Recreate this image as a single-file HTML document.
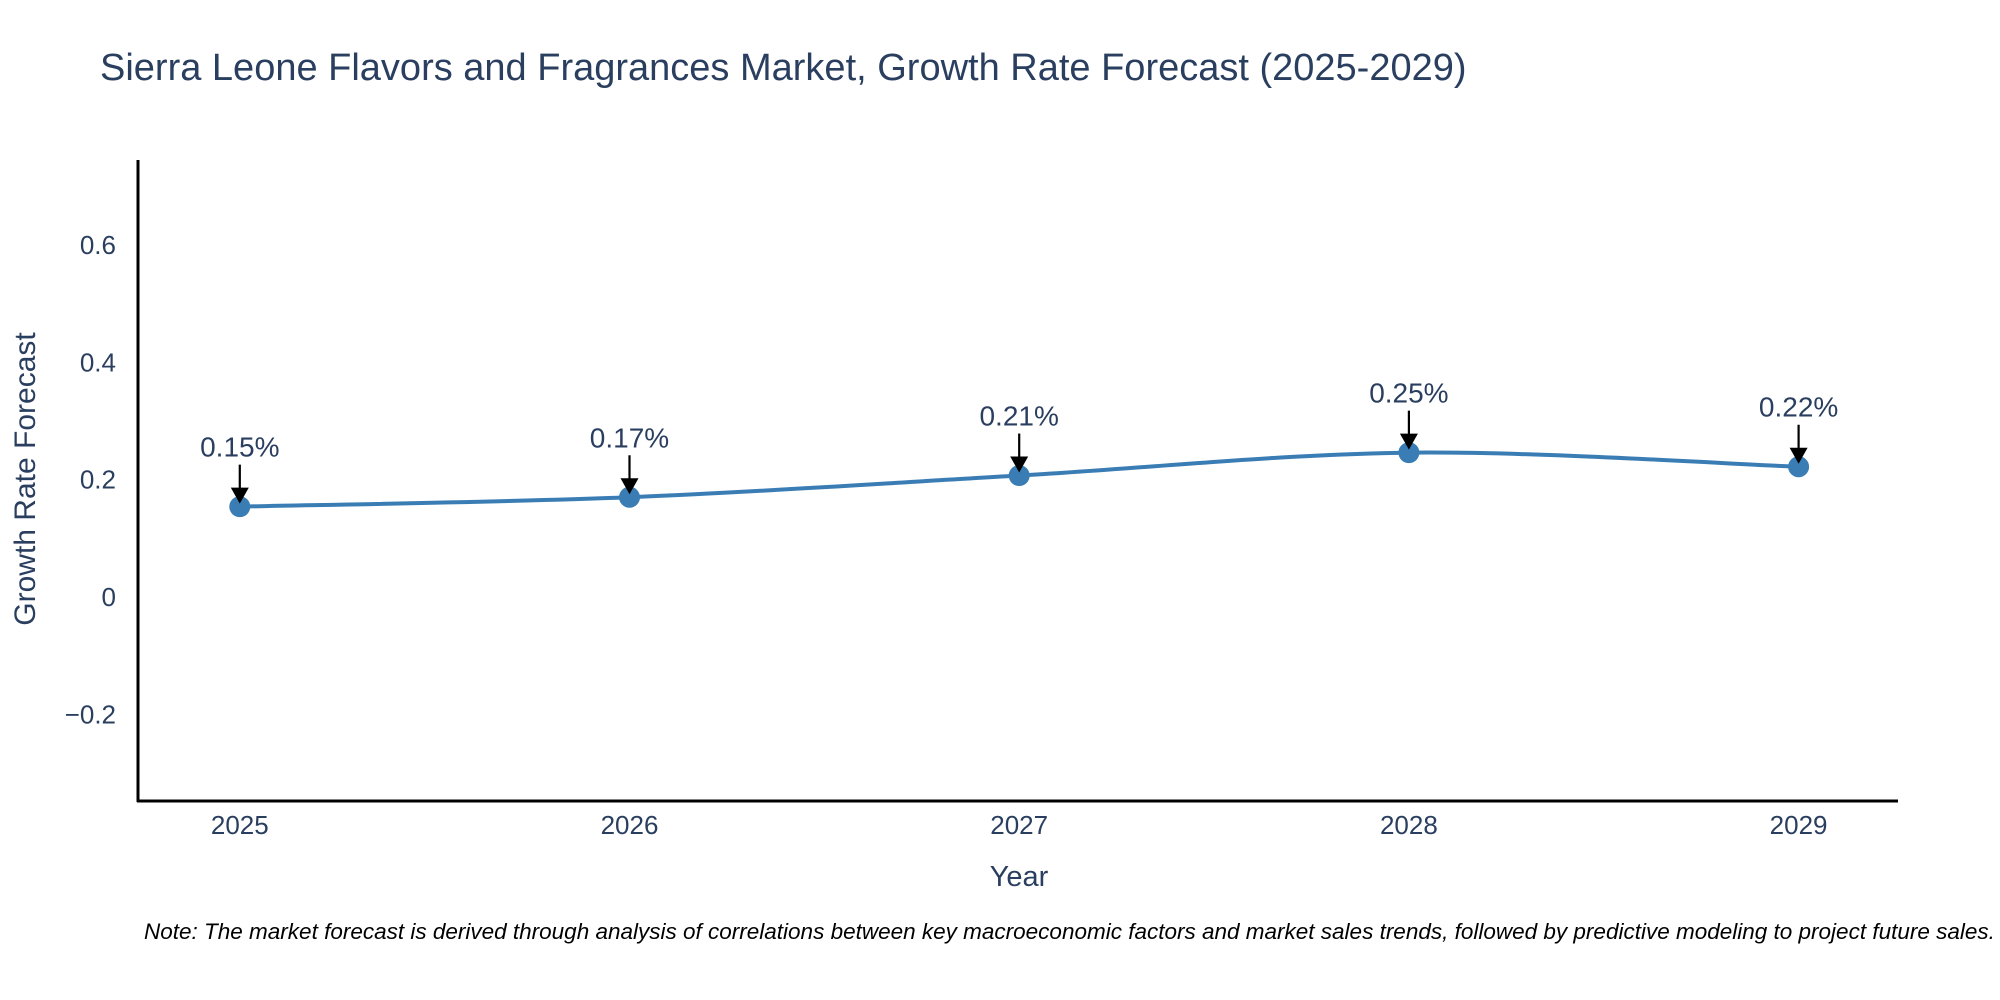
<!DOCTYPE html>
<html><head><meta charset="utf-8"><style>
body{margin:0;background:#fff;}
svg{display:block;font-family:"Liberation Sans","DejaVu Sans",sans-serif;}
</style></head><body>
<svg id="chart" width="2000" height="1000" viewBox="0 0 2000 1000">
<text x="100" y="80" font-size="38" fill="#2a3f5f">Sierra Leone Flavors and Fragrances Market, Growth Rate Forecast (2025-2029)</text>
<g id="grid"></g>
<g id="series"></g>
<g id="annos"></g>
<line x1="138" y1="160" x2="138" y2="802" stroke="#000" stroke-width="3"/>
<line x1="137" y1="801" x2="1898" y2="801" stroke="#000" stroke-width="3"/>
<text transform="translate(35,479) rotate(-90)" text-anchor="middle" font-size="30" fill="#2a3f5f">Growth Rate Forecast</text>
<text x="1019" y="886" text-anchor="middle" font-size="29" fill="#2a3f5f">Year</text>
<text x="144" y="939" font-size="22.5" font-style="italic" fill="#000">Note: The market forecast is derived through analysis of correlations between key macroeconomic factors and market sales trends, followed by predictive modeling to project future sales.</text>
</svg>
<script>
const years = [2025, 2026, 2027, 2028, 2029];
const growth = [0.154, 0.170, 0.207, 0.246, 0.222];
const labels = ["0.15%", "0.17%", "0.21%", "0.25%", "0.22%"];
const yTicks = [-0.2, 0, 0.2, 0.4, 0.6];
const yTickLabels = ["\u22120.2", "0", "0.2", "0.4", "0.6"];

const NS = "http://www.w3.org/2000/svg";
function xS(v){ return 239.8 + (v - 2025) * 389.7; }
function yS(v){ return 597 - v * 586.75; }
function mk(tag, attrs, parent){ const e = document.createElementNS(NS, tag); for (const k in attrs) e.setAttribute(k, attrs[k]); parent.appendChild(e); return e; }

const grid = document.getElementById('grid');
yTicks.forEach((t, i) => {
  const tx = mk('text', {x: 116, y: yS(t) + 9, 'text-anchor': 'end', 'font-size': 26, fill: '#2a3f5f'}, grid);
  
  
  tx.textContent = yTickLabels[i];
});
years.forEach(y => {
  const tx = mk('text', {x: xS(y), y: 834, 'text-anchor': 'middle', 'font-size': 26, fill: '#2a3f5f'}, grid);
  
  
  tx.textContent = y;
});

const pts = years.map((y, i) => [xS(y), yS(growth[i])]);
let d = `M${pts[0][0]},${pts[0][1]}`;
const s = 1/6;
for (let i = 0; i < pts.length - 1; i++) {
  const p0 = pts[Math.max(0, i-1)], p1 = pts[i], p2 = pts[i+1], p3 = pts[Math.min(pts.length-1, i+2)];
  const c1 = [p1[0] + (p2[0]-p0[0])*s, p1[1] + (p2[1]-p0[1])*s];
  const c2 = [p2[0] - (p3[0]-p1[0])*s, p2[1] - (p3[1]-p1[1])*s];
  d += ` C${c1[0]},${c1[1]} ${c2[0]},${c2[1]} ${p2[0]},${p2[1]}`;
}
const series = document.getElementById('series');
const line = mk('path', {d: d, fill: 'none', stroke: '#3a7db5', 'stroke-width': 4}, series);


pts.forEach(p => {
  const c = mk('circle', {cx: p[0], cy: p[1], r: 10.5, fill: '#3a7db5'}, series);
  
  
});

const annos = document.getElementById('annos');
pts.forEach((p, i) => {
  const g = mk('g', {}, annos);
  
  
  mk('line', {x1: p[0], y1: p[1] - 42, x2: p[0], y2: p[1] - 16, stroke: '#000', 'stroke-width': 2.2}, g);
  mk('polygon', {points: `${p[0]-9},${p[1]-19} ${p[0]+9},${p[1]-19} ${p[0]},${p[1]-3}`, fill: '#000'}, g);
  const t = mk('text', {x: p[0], y: p[1] - 50, 'text-anchor': 'middle', 'font-size': 28, fill: '#2a3f5f'}, g);
  t.textContent = labels[i];
});
</script>
</body></html>
